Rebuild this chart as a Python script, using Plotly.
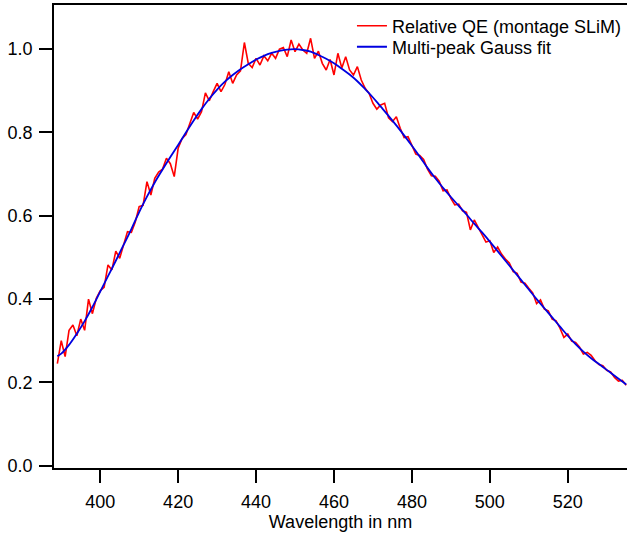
import plotly.graph_objects as go

# measured relative QE, 1 nm steps
wl_meas = list(range(389, 536))
qe_meas = [0.245, 0.300, 0.262, 0.325, 0.338, 0.312, 0.352, 0.325, 0.400, 0.365,
           0.402, 0.420, 0.428, 0.482, 0.470, 0.515, 0.498, 0.528, 0.562, 0.560,
           0.585, 0.622, 0.625, 0.682, 0.650, 0.690, 0.705, 0.712, 0.738, 0.725,
           0.694, 0.762, 0.785, 0.795, 0.822, 0.848, 0.832, 0.850, 0.895, 0.876,
           0.898, 0.918, 0.898, 0.915, 0.946, 0.918, 0.938, 0.948, 1.016, 0.966,
           0.956, 0.978, 0.962, 0.984, 0.972, 0.990, 0.978, 1.000, 1.004, 0.982,
           1.022, 0.994, 1.012, 0.998, 0.990, 1.026, 0.978, 0.995, 0.966, 0.950,
           0.975, 0.938, 0.990, 0.955, 0.982, 0.950, 0.938, 0.958, 0.926, 0.906,
           0.894, 0.870, 0.856, 0.866, 0.870, 0.835, 0.826, 0.838, 0.810, 0.788,
           0.790, 0.770, 0.748, 0.745, 0.735, 0.712, 0.696, 0.695, 0.683, 0.660,
           0.662, 0.642, 0.626, 0.628, 0.612, 0.608, 0.566, 0.590, 0.572, 0.556,
           0.537, 0.540, 0.512, 0.525, 0.508, 0.496, 0.487, 0.466, 0.462, 0.441,
           0.438, 0.426, 0.415, 0.389, 0.398, 0.376, 0.372, 0.352, 0.348, 0.330,
           0.308, 0.316, 0.299, 0.296, 0.285, 0.268, 0.272, 0.265, 0.252, 0.243,
           0.240, 0.229, 0.225, 0.212, 0.203, 0.205, 0.193]

# multi-peak gauss fit
wl_fit = [389, 390, 392, 394, 396, 398, 400, 402, 404, 406, 408, 410, 412, 414, 416,
          418, 420, 422, 424, 426, 428, 430, 432, 434, 436, 438, 440, 442, 444, 446,
          448, 450, 452, 454, 456, 458, 460, 462, 464, 466, 468, 470, 472, 474, 476,
          478, 480, 482, 484, 486, 488, 490, 492, 494, 496, 498, 500, 502, 504, 506,
          508, 510, 512, 514, 516, 518, 520, 522, 524, 526, 528, 530, 532, 534, 535]
qe_fit = [0.263, 0.269, 0.290, 0.317, 0.347, 0.381, 0.418, 0.455, 0.492, 0.530,
          0.568, 0.609, 0.646, 0.680, 0.711, 0.741, 0.770, 0.800, 0.829, 0.856,
          0.881, 0.903, 0.922, 0.938, 0.952, 0.964, 0.975, 0.984, 0.991, 0.996,
          0.999, 1.000, 0.998, 0.994, 0.986, 0.977, 0.966, 0.953, 0.939, 0.923,
          0.904, 0.884, 0.862, 0.840, 0.817, 0.793, 0.768, 0.742, 0.715, 0.690,
          0.667, 0.645, 0.624, 0.603, 0.581, 0.560, 0.538, 0.515, 0.492, 0.469,
          0.446, 0.423, 0.400, 0.378, 0.356, 0.334, 0.312, 0.292, 0.274, 0.258,
          0.244, 0.230, 0.216, 0.202, 0.195]

x_ticks = [400, 420, 440, 460, 480, 500, 520]
y_ticks = [0.0, 0.2, 0.4, 0.6, 0.8, 1.0]

fig = go.Figure()
fig.add_trace(go.Scatter(x=wl_meas, y=qe_meas, mode='lines', name='Relative QE (montage SLiM)',
                         line=dict(color='#ff0000', width=1.6), legend='legend'))
fig.add_trace(go.Scatter(x=wl_fit, y=qe_fit, mode='lines', name='Multi-peak Gauss fit',
                         line=dict(color='#0000e0', width=1.8, shape='spline'), legend='legend2'))

axis_style = dict(showline=True, linecolor='black', linewidth=1.5, showgrid=False, zeroline=False,
                  ticks='outside', ticklen=13, tickwidth=1.5, tickcolor='black',
                  tickfont=dict(size=18, color='black'))
fig.update_xaxes(range=[388.14, 535.2], tickvals=x_ticks, mirror=True, ticklabelstandoff=4,
                 title=dict(text='Wavelength in nm', font=dict(size=18, color='black'), standoff=2),
                 **axis_style)
fig.update_yaxes(range=[-0.0055, 1.106], tickvals=y_ticks, tickformat='.1f', ticklabelstandoff=3,
                 **axis_style)

leg = dict(x=0.52, xanchor='left', yanchor='top', bgcolor='rgba(0,0,0,0)',
           font=dict(size=18, color='black'), itemwidth=30)
fig.update_layout(width=627, height=536,
                  font=dict(family='Liberation Sans, Arial, sans-serif', color='black'),
                  plot_bgcolor='white', paper_bgcolor='white',
                  margin=dict(l=54, r=0, t=5, b=68, autoexpand=False),
                  showlegend=True,
                  legend=dict(y=0.9944, **leg),
                  legend2=dict(y=0.9491, **leg))
fig.write_html("out.html", config={'displayModeBar': False},
               post_script="document.body.style.margin='0';")
